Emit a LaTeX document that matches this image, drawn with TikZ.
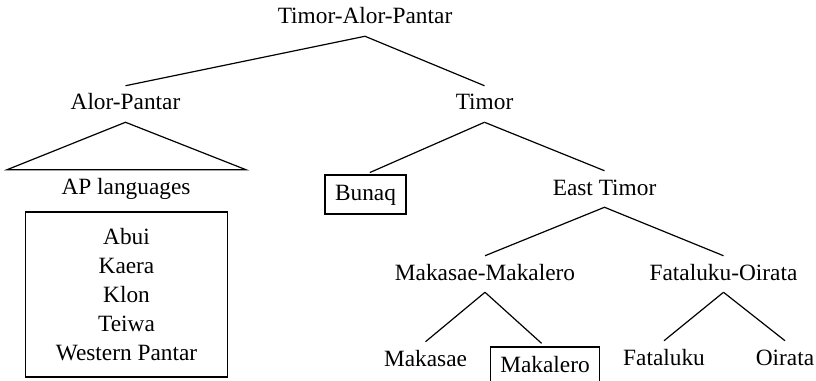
\documentclass[tikz,border=0pt]{standalone}
\usepackage{fontspec}
\setmainfont{Liberation Serif}
\usetikzlibrary{calc}
\begin{document}
\begin{tikzpicture}[x=0.75pt,y=0.75pt,yscale=-1,xscale=1,
        lang/.style={inner xsep=2pt, inner ysep=5pt, text height=13pt, text depth=4pt, anchor=base, font=\fontsize{17.5}{21.75}\selectfont},
        boxed/.style={lang, draw, line width=0.9pt, anchor=center, inner xsep=7.5pt, inner ysep=6.1pt},
        branch/.style={line width=0.9pt}]
        \useasboundingbox (0,0) rectangle (816,381);

        %Text Node
        \node[lang] (tap) at (365,24) {Timor-Alor-Pantar};
        %Text Node
        \node[lang] (alor) at (125.5,110) {Alor-Pantar};
        %Text Node
        \node[lang] (timor) at (484.5,110) {Timor};
        %Text Node
        \node[lang] (apl) at (126,194) {AP languages};
        %Shape: Rectangle
        \node[draw, line width=0.9pt, align=center, inner sep=0pt, minimum width=152pt, minimum height=123.75pt, font=\fontsize{17.5}{21.75}\selectfont] (aplist) at (126.5,294.5) {Abui\\Kaera\\Klon\\Teiwa\\Western Pantar};
        %Shape: Rectangle
        \node[boxed] (bunaq) at (365.5,194.5) {Bunaq};
        %Text Node
        \node[lang] (etimor) at (604.5,195) {East Timor};
        %Text Node
        \node[lang] (mm) at (485,280) {Makasae-Makalero};
        %Text Node
        \node[lang] (fo) at (723.5,280) {Fataluku-Oirata};
        %Text Node
        \node[lang] (makasae) at (425.5,366) {Makasae};
        %Shape: Rectangle
        \node[boxed] (makalero) at (545,366.5) {Makalero};
        %Text Node
        \node[lang] (fataluku) at (664,365) {Fataluku};
        %Text Node
        \node[lang] (oirata) at (785,365) {Oirata};

        %Straight Lines
        \draw[branch] (alor.north) -- (tap.south) -- (timor.north);
        %Shape: Triangle
        \draw[branch] (alor.south) -- ($(apl.north)+(-119,0)$) -- ($(apl.north)+(120,0)$) -- cycle;
        %Straight Lines
        \draw[branch, shorten >=3.5pt] (timor.south) -- (bunaq.north);
        \draw[branch] (timor.south) -- (etimor.north);
        %Straight Lines
        \draw[branch] (mm.north) -- (etimor.south) -- (fo.north);
        %Straight Lines
        \draw[branch] (mm.south) -- (makasae.north);
        \draw[branch, shorten >=3.5pt] (mm.south) -- (makalero.north);
        %Straight Lines
        \draw[branch] (fo.south) -- (fataluku.north);
        \draw[branch] (fo.south) -- (oirata.north);

\end{tikzpicture}
\end{document}
